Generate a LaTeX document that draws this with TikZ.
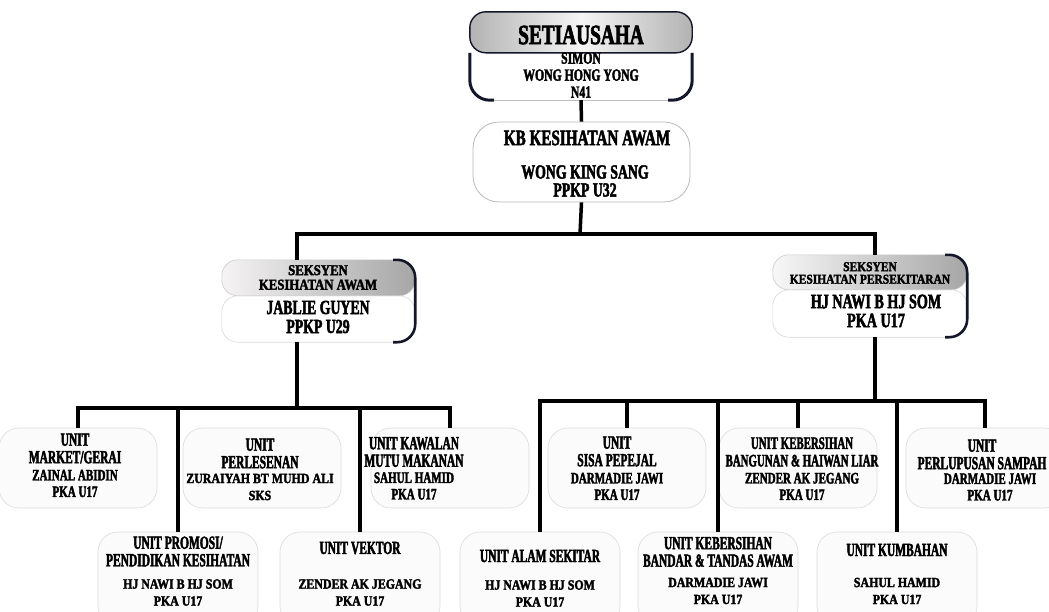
\documentclass[tikz,border=0pt]{standalone}
\usepackage{fontspec}
\newfontfamily\cf{Liberation Serif}[FakeStretch=0.69, FakeBold=2.2]
\newfontfamily\cn{Liberation Serif}[FakeStretch=0.62, FakeBold=2.2]
\newfontfamily\cw{Liberation Serif}[FakeStretch=0.85, FakeBold=2.2]
\usetikzlibrary{calc}
\newcommand\myfs[2]{\fontsize{#1}{#2}\selectfont}
\definecolor{ink}{HTML}{14172A}
\tikzset{
  conn/.style={line width=3.5pt, draw=black},
  faint/.style={draw=gray!28, line width=0.6pt, rounded corners=20pt, fill=gray!3},
  ubox/.style={faint, minimum width=158pt, minimum height=80pt, inner sep=0pt},
  lbox/.style={faint, minimum width=160pt, minimum height=94pt, inner sep=0pt},
  ttl/.style={font=\cn\bfseries\myfs{18.5}{17.5}, align=center, inner sep=0pt},
  nm/.style={font=\cf\bfseries\myfs{16}{16.5}, align=center, inner sep=0pt},
  nmw/.style={font=\cw\bfseries\myfs{14}{17}, align=center, inner sep=0pt},
  hdr/.style={inner sep=0pt, minimum width=#1},
}
\begin{document}
\begin{tikzpicture}[x=1pt,y=-1pt]
\useasboundingbox (0,0) rectangle (1049,611);
\fill[white] (0,0) rectangle (1049,611);
\begin{scope}
\clip (0,0) rectangle (1049,611);

% ---------- top box ----------
\node[hdr=222pt, minimum height=88pt] (top) at (581,56) {};
\shade[rounded corners=16pt, left color=gray!60, right color=gray!60, middle color=gray!8]
  (top.north west) rectangle ($(top.north east)+(0,-41pt)$);
\draw[ink, line width=1.4pt, rounded corners=16pt] (top.north west) rectangle ($(top.north east)+(0,-41pt)$);
\draw[ink, line width=3pt, rounded corners=20pt]
  ($(top.north west)+(0,-41pt)$) -- (top.south west) -- ($(top.south west)+(24pt,0)$);
\draw[ink, line width=3pt, rounded corners=20pt]
  ($(top.north east)+(0,-41pt)$) -- (top.south east) -- ($(top.south east)+(-24pt,0)$);
\draw[gray!50, line width=0.6pt] ($(top.south west)+(24pt,0)$) -- ($(top.south east)+(-24pt,0)$);
\node[font=\cf\bfseries\myfs{28}{28}, inner sep=0pt] at (581,35) {SETIAUSAHA};
\node[font=\cf\bfseries\myfs{17}{17}, align=center, inner sep=0pt] at (581,75) {SIMON\\WONG HONG YONG\\N41};

% ---------- KB box ----------
\node[draw=gray!55, line width=0.8pt, rounded corners=26pt, fill=white,
      minimum width=217pt, minimum height=80pt, inner sep=0pt] (kb) at (581.5,162) {};
\node[font=\cf\bfseries\myfs{22}{22}, inner sep=0pt] at (587,138) {KB KESIHATAN AWAM};
\node[font=\cf\bfseries\myfs{20}{18}, align=center, inner sep=0pt] at (585,181) {WONG KING SANG\\PPKP U32};

% ---------- section left ----------
\node[hdr=193pt, minimum height=82pt] (secL) at (318.5,301) {};
\coordinate (secLw) at ($(secL.north west)+(0,-36pt)$);
\coordinate (secLe) at ($(secL.north east)+(0,-36pt)$);
\shade[rounded corners=16pt, left color=red!10!gray!8, right color=gray!70]
  (secL.north west) rectangle (secLe);
\draw[gray!40, line width=0.6pt, rounded corners=16pt]
  (secL.north west) rectangle (secLe);
\draw[gray!30, line width=0.6pt, rounded corners=16pt]
  (secLw) rectangle (secL.south east);
\draw[ink, line width=2.6pt, rounded corners=18pt]
  ($(secL.north east)+(-22pt,0)$) -- (secL.north east) -- (secLe);
\draw[ink, line width=2.6pt, rounded corners=18pt]
  (secLe) -- (secL.south east) -- ($(secL.south east)+(-22pt,0)$);
\node[font=\cw\bfseries\myfs{15}{14.5}, align=center, inner sep=0pt] at (318,277.5) {SEKSYEN\\KESIHATAN AWAM};
\node[font=\cf\bfseries\myfs{20}{19}, align=center, inner sep=0pt] at (318,317) {JABLIE GUYEN\\PPKP U29};

% ---------- section right ----------
\node[hdr=194pt, minimum height=82pt] (secR) at (870,296) {};
\coordinate (secRw) at ($(secR.north west)+(0,-35pt)$);
\coordinate (secRe) at ($(secR.north east)+(0,-35pt)$);
\shade[rounded corners=16pt, left color=gray!6, right color=gray!70]
  (secR.north west) rectangle (secRe);
\draw[gray!40, line width=0.6pt, rounded corners=16pt]
  (secR.north west) rectangle (secRe);
\draw[gray!30, line width=0.6pt, rounded corners=16pt]
  (secRw) rectangle (secR.south east);
\draw[ink, line width=2.6pt, rounded corners=18pt]
  ($(secR.north east)+(-22pt,0)$) -- (secR.north east) -- (secRe);
\draw[ink, line width=2.6pt, rounded corners=18pt]
  (secRe) -- (secR.south east) -- ($(secR.south east)+(-22pt,0)$);
\node[font=\cw\bfseries\myfs{13.5}{12.5}, align=center, inner sep=0pt] at (870,273) {SEKSYEN\\KESIHATAN PERSEKITARAN};
\node[font=\cf\bfseries\myfs{20.5}{19}, align=center, inner sep=0pt] at (876,311) {HJ NAWI B HJ SOM\\PKA U17};

% ---------- unit boxes (upper row) ----------
\node[ubox] (u1) at (78,468) {};
\node[ubox] (u2) at (262,468) {};
\node[ubox] (u3) at (450,468) {};
\node[ubox] (u4) at (627,468) {};
\node[ubox] (u5) at (798,468) {};
\node[ubox] (u6) at (985,468) {};
% ---------- unit boxes (lower row) ----------
\node[lbox] (l1) at (178,579) {};
\node[lbox] (l2) at (360,579) {};
\node[lbox] (l3) at (540,579) {};
\node[lbox] (l4) at (718,579) {};
\node[lbox] (l5) at (897,579) {};

% ---------- connectors ----------
\coordinate (j0) at (580,234);
\coordinate (jL) at (297,408);
\coordinate (jR) at (875,401);
\draw[conn] (top.south) -- (kb.north);
\draw[conn] (kb.south) -- (j0);
\draw[conn] ([xshift=-21.5pt]secL.north) |- (j0) -| ([xshift=5pt]secR.north);
\draw[conn] ([xshift=-21.5pt]secL.south) -- (jL);
\draw[conn] ([xshift=5pt]secR.south) -- (jR);
\draw[conn] (u1.north) -- (u1.north |- jL) -- (u3.north |- jL) -- (u3.north);
\draw[conn] (l1.north |- jL) -- (l1.north);
\draw[conn] (l2.north |- jL) -- (l2.north);
\draw[conn] (l3.north) -- (l3.north |- jR) -- (u6.north |- jR) -- (u6.north);
\draw[conn] (u4.north |- jR) -- (u4.north);
\draw[conn] (l4.north |- jR) -- (l4.north);
\draw[conn] (u5.north |- jR) -- (u5.north);
\draw[conn] (l5.north |- jR) -- (l5.north);

% ---------- unit texts (upper) ----------
\node[ttl] at (75,448.5) {UNIT\\MARKET/GERAI};
\node[nm] at (75,483.5) {ZAINAL ABIDIN\\PKA U17};
\node[ttl] at (260,453.5) {UNIT\\PERLESENAN};
\node[nmw] at (260,487) {ZURAIYAH BT MUHD ALI\\SKS};
\node[ttl] at (414,452) {UNIT KAWALAN\\MUTU MAKANAN};
\node[nm] at (414,486) {SAHUL HAMID\\PKA U17};
\node[ttl] at (617,451.5) {UNIT\\SISA PEPEJAL};
\node[nm] at (617,486.5) {DARMADIE JAWI\\PKA U17};
\node[ttl, font=\cn\bfseries\myfs{17.5}{17.5}] at (802,452) {UNIT KEBERSIHAN\\BANGUNAN \& HAIWAN LIAR};
\node[nm] at (802,486.5) {ZENDER AK JEGANG\\PKA U17};
\node[ttl] at (982,454.5) {UNIT\\PERLUPUSAN SAMPAH};
\node[nm] at (990,487) {DARMADIE JAWI\\PKA U17};

% ---------- unit texts (lower) ----------
\node[ttl] at (178,551.5) {UNIT PROMOSI/\\PENDIDIKAN KESIHATAN};
\node[nmw] at (178,592.5) {HJ NAWI B HJ SOM\\PKA U17};
\node[ttl] at (360,548) {UNIT VEKTOR};
\node[nmw] at (360,592.5) {ZENDER AK JEGANG\\PKA U17};
\node[ttl] at (540,556) {UNIT ALAM SEKITAR};
\node[nmw] at (540,593.5) {HJ NAWI B HJ SOM\\PKA U17};
\node[ttl] at (718,552) {UNIT KEBERSIHAN\\BANDAR \& TANDAS AWAM};
\node[nmw] at (718,591) {DARMADIE JAWI\\PKA U17};
\node[ttl] at (897,550) {UNIT KUMBAHAN};
\node[nmw] at (897,591) {SAHUL HAMID\\PKA U17};
\end{scope}
\end{tikzpicture}
\end{document}
